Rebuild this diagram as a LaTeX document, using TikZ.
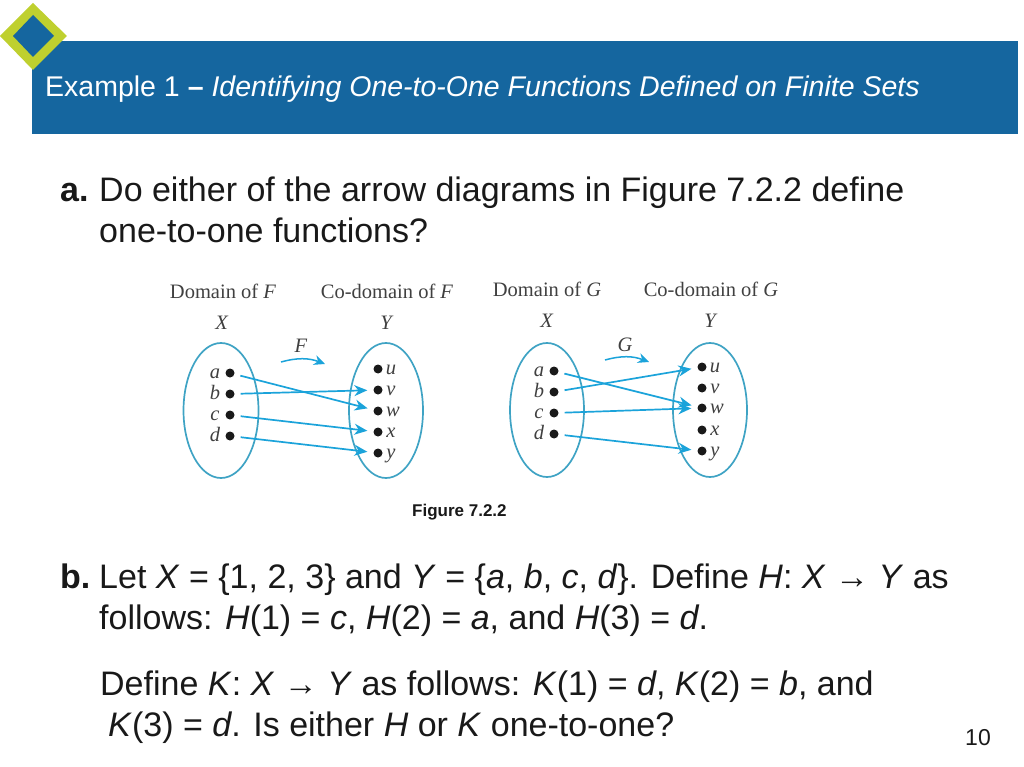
\documentclass[tikz,border=0pt]{standalone}
\usepackage{fontspec}
\setmainfont{Liberation Sans}
\newfontfamily\bookfont{Liberation Serif}
\usetikzlibrary{arrows.meta}
\definecolor{bannerblue}{HTML}{15669F}
\definecolor{limegreen}{HTML}{BFD02F}
\definecolor{ovalblue}{HTML}{3FA3C4}
\definecolor{arrowblue}{HTML}{1BA3DA}
\tikzset{
  bodytext/.style={anchor=base west,inner sep=0pt,font=\fontsize{34}{34}\selectfont,text=black!90},
  booklabel/.style={anchor=base,inner sep=0pt,font=\bookfont\fontsize{20.5}{20.5}\selectfont,text=black!75},
  elem/.style={circle,fill=black!90,inner sep=0pt,minimum size=9pt},
  oval/.style={draw=ovalblue,line width=1.7pt},
  maparrow/.style={draw=arrowblue,line width=1.7pt,-{Stealth[length=13pt,width=11pt]},shorten <=6pt,shorten >=6pt},
  namearrow/.style={draw=arrowblue,line width=1.5pt,-{Stealth[length=11pt,width=10pt]}}
}
\begin{document}
\begin{tikzpicture}[x=1pt,y=-1pt]
\useasboundingbox (0,0) rectangle (1024,767);
\fill[bannerblue] (32,41) rectangle (1018,134);
\fill[limegreen] (33,3) -- (67,36) -- (33,70) -- (0,36) -- cycle;
\fill[bannerblue] (33,15) -- (54,36) -- (33,57) -- (13,36) -- cycle;
\node[anchor=base west,inner sep=0pt,text=white,font=\fontsize{28.5}{28.5}\selectfont] (title) at (45,97) {Example 1 \textbf{--} \textit{Identifying One-to-One Functions Defined on Finite Sets}};
\node[bodytext] (tagA) at (60,202) {\textbf{a.}};
\node[bodytext] (lineA) at (99,202) {Do either of the arrow diagrams in Figure 7.2.2 define};
\node[bodytext] (lineB) at (99,243) {one-to-one functions?};
% left diagram
\draw[oval] (221,410.5) ellipse (37.5 and 67.5);
\draw[oval] (386,410.5) ellipse (37 and 67.5);
\node[booklabel] (domF) at (223,298) {Domain of \textit{F}};
\node[booklabel] (codF) at (387,298) {Co-domain of \textit{F}};
\node[booklabel] (setXF) at (222,329) {\textit{X}};
\node[booklabel] (setYF) at (387,329) {\textit{Y}};
\node[booklabel] (nameF) at (301,352) {\textit{F}};
\coordinate (fbeg) at (281,362);
\coordinate (fend) at (325,364);
\draw[namearrow] (fbeg) to[bend left=18] (fend);
\node[elem] (fa) at (230,373) {};
\node[elem] (fb) at (230,394) {};
\node[elem] (fc) at (230,415) {};
\node[elem] (fd) at (230,436) {};
\node[elem] (fu) at (378,369) {};
\node[elem] (fv) at (378,390) {};
\node[elem] (fw) at (378,411) {};
\node[elem] (fx) at (378,432) {};
\node[elem] (fy) at (378,453) {};
\node[booklabel] at (215,378) (la) {\textit{a}};
\node[booklabel] at (215,399) (lb) {\textit{b}};
\node[booklabel] at (215,420) (lc) {\textit{c}};
\node[booklabel] at (215,441) (ld) {\textit{d}};
\node[booklabel] at (391,374) (lu) {\textit{u}};
\node[booklabel] at (391,395) (lv) {\textit{v}};
\node[booklabel] at (393,416) (lw) {\textit{w}};
\node[booklabel] at (391,437) (lx) {\textit{x}};
\node[booklabel] at (391,458) (ly) {\textit{y}};
\draw[maparrow] (fa) -- (fw);
\draw[maparrow] (fb) -- (fv);
\draw[maparrow] (fc) -- (fx);
\draw[maparrow] (fd) -- (fy);
% right diagram
\draw[oval] (547,410) ellipse (37 and 67);
\draw[oval] (710,410) ellipse (37 and 67);
\node[booklabel] (domG) at (547,296) {Domain of \textit{G}};
\node[booklabel] (codG) at (711,296) {Co-domain of \textit{G}};
\node[booklabel] (setXG) at (547,327) {\textit{X}};
\node[booklabel] (setYG) at (711,327) {\textit{Y}};
\node[booklabel] (nameG) at (625,351) {\textit{G}};
\coordinate (gbeg) at (605,360);
\coordinate (gend) at (649,362);
\draw[namearrow] (gbeg) to[bend left=18] (gend);
\node[elem] (ga) at (554,371) {};
\node[elem] (gb) at (554,392) {};
\node[elem] (gc) at (554,413) {};
\node[elem] (gd) at (554,434) {};
\node[elem] (gu) at (702,367) {};
\node[elem] (gv) at (702,388) {};
\node[elem] (gw) at (702,408) {};
\node[elem] (gx) at (702,430) {};
\node[elem] (gy) at (702,451) {};
\node[booklabel] at (539,376) (ma) {\textit{a}};
\node[booklabel] at (539,397) (mb) {\textit{b}};
\node[booklabel] at (539,418) (mc) {\textit{c}};
\node[booklabel] at (539,439) (md) {\textit{d}};
\node[booklabel] at (715,372) (mu) {\textit{u}};
\node[booklabel] at (715,393) (mv) {\textit{v}};
\node[booklabel] at (717,413) (mw) {\textit{w}};
\node[booklabel] at (715,435) (mx) {\textit{x}};
\node[booklabel] at (715,456) (my) {\textit{y}};
\draw[maparrow] (ga) -- (gw);
\draw[maparrow] (gb) -- (gu);
\draw[maparrow] (gc) -- (gw);
\draw[maparrow] (gd) -- (gy);
\node[anchor=base west,inner sep=0pt,font=\fontsize{17}{17}\selectfont\bfseries,text=black!90] (figcap) at (412,516) {Figure 7.2.2};
\node[bodytext] (tagB) at (60,588) {\textbf{b.}};
\node[bodytext] (lineC) at (99,588) {Let \textit{X} = \{1, 2, 3\} and \textit{Y} = \{\textit{a}, \textit{b}, \textit{c}, \textit{d}\}. Define \textit{H}: \textit{X} → \textit{Y} as};
\node[bodytext] (lineD) at (99,629) {follows: \textit{H}(1) = \textit{c}, \textit{H}(2) = \textit{a}, and \textit{H}(3) = \textit{d}.};
\node[bodytext] (lineE) at (100,695) {Define \textit{K}: \textit{X} → \textit{Y} as follows: \textit{K}(1) = \textit{d}, \textit{K}(2) = \textit{b}, and};
\node[bodytext] (lineF) at (108,736) {\textit{K}(3) = \textit{d}. Is either \textit{H} or \textit{K} one-to-one?};
\node[anchor=base west,inner sep=0pt,font=\fontsize{23}{23}\selectfont,text=black!90] (pagenum) at (965,745) {10};
\end{tikzpicture}
\end{document}
